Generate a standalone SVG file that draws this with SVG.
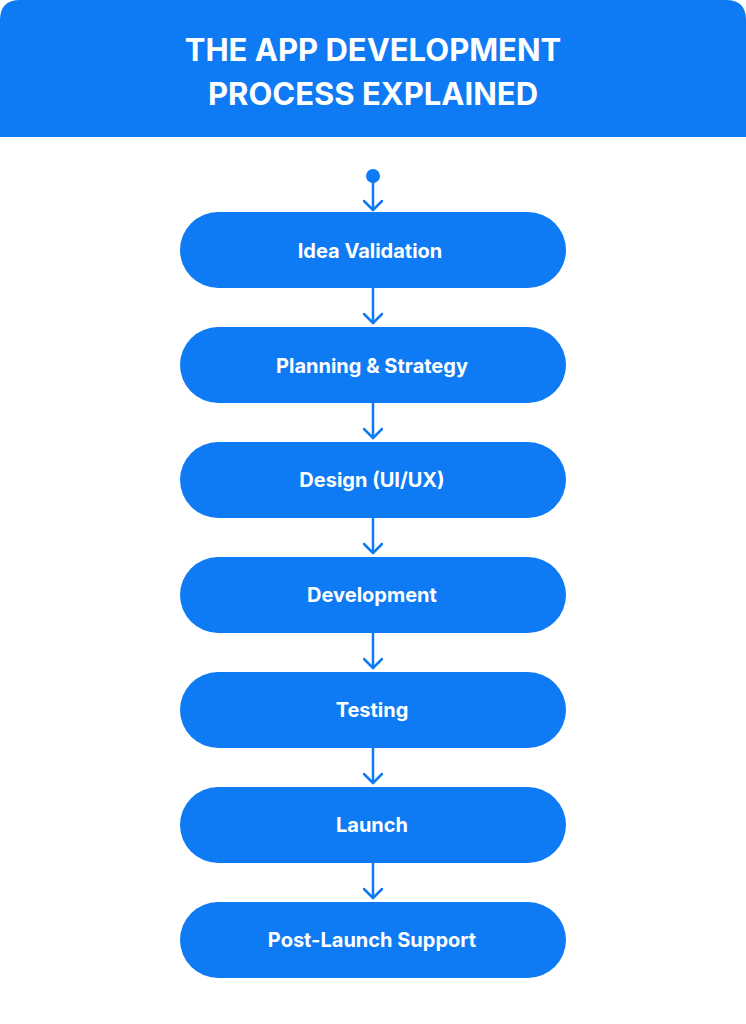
<svg xmlns="http://www.w3.org/2000/svg" width="746" height="1024" viewBox="0 0 746 1024">
<style>
.n{fill:#0E7BF5}
.t{fill:#fff;font-family:Inter,"Liberation Sans",sans-serif;font-weight:700;font-size:20px;text-anchor:middle;dominant-baseline:central}
.h{fill:#fff;font-family:Inter,"Liberation Sans",sans-serif;font-weight:700;font-size:31px;text-anchor:middle}
.c{stroke:#0E7BF5;stroke-width:2.5;fill:none;stroke-linecap:round;stroke-linejoin:round}
</style>
<defs><marker id="a" viewBox="0 0 20 20" refX="18" refY="10" markerWidth="20" markerHeight="20" markerUnits="userSpaceOnUse" orient="auto"><path d="M9 1 L18 10 L9 19" fill="none" stroke="#0E7BF5" stroke-width="2.5" stroke-linecap="round" stroke-linejoin="round"/></marker></defs>
<rect width="746" height="1024" fill="#fff"/>
<g id="header"><path class="n" d="M0 20 Q0 0 20 0 H726 Q746 0 746 20 V137 H0 Z"/>
<text class="h" x="373" y="61">THE APP DEVELOPMENT</text>
<text class="h" x="373" y="105">PROCESS EXPLAINED</text></g>
<g id="connectors">
<circle cx="373" cy="176" r="7" class="n"/>
<path class="c" d="M373 176 V210" marker-end="url(#a)"/>
<path class="c" d="M373 288 V323" marker-end="url(#a)"/>
<path class="c" d="M373 403 V438" marker-end="url(#a)"/>
<path class="c" d="M373 518 V553" marker-end="url(#a)"/>
<path class="c" d="M373 633 V668" marker-end="url(#a)"/>
<path class="c" d="M373 748 V783" marker-end="url(#a)"/>
<path class="c" d="M373 863 V898" marker-end="url(#a)"/>
</g>
<g id="n1"><rect class="n" x="180" y="212" width="386" height="76" rx="38"/><text class="t" x="370" y="251">Idea Validation</text></g>
<g id="n2"><rect class="n" x="180" y="327" width="386" height="76" rx="38"/><text class="t" x="372" y="366">Planning &amp; Strategy</text></g>
<g id="n3"><rect class="n" x="180" y="442" width="386" height="76" rx="38"/><text class="t" x="372" y="480">Design (UI/UX)</text></g>
<g id="n4"><rect class="n" x="180" y="557" width="386" height="76" rx="38"/><text class="t" x="372" y="595">Development</text></g>
<g id="n5"><rect class="n" x="180" y="672" width="386" height="76" rx="38"/><text class="t" x="372" y="710">Testing</text></g>
<g id="n6"><rect class="n" x="180" y="787" width="386" height="76" rx="38"/><text class="t" x="372" y="825">Launch</text></g>
<g id="n7"><rect class="n" x="180" y="902" width="386" height="76" rx="38"/><text class="t" x="372" y="940">Post-Launch Support</text></g>
</svg>
